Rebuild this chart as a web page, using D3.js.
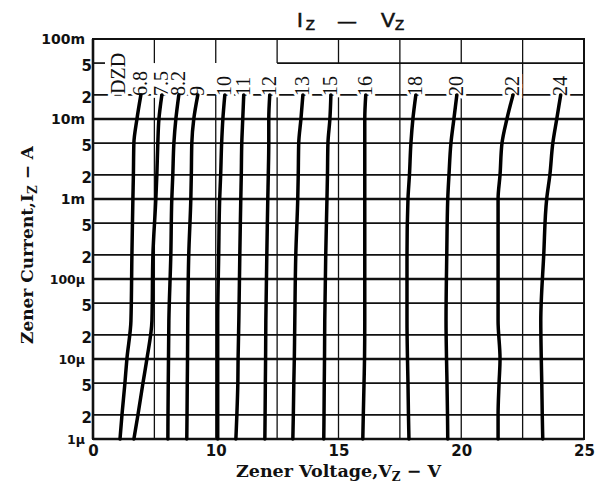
<!DOCTYPE html>
<html>
<head>
<meta charset="utf-8">
<title>Iz - Vz</title>
<script src="https://d3js.org/d3.v7.min.js"></script>
<style>
  body { margin: 0; background: #fff; }
</style>
</head>
<body>
<div id="chart"></div>
<script>

// current levels (A) at which each curve was read
var currents = [20e-3, 10e-3, 5e-3, 2e-3, 1e-3, 200e-6, 30e-6, 10e-6, 5e-6, 2e-6, 1e-6];

// zener voltage of each curve at those levels (axis units)
var v6_8 = [3.90, 3.58, 3.33, 3.29, 3.25, 3.17, 3.09, 2.76, 2.60, 2.36, 2.20];
var v7_5 = [5.61, 5.37, 5.28, 5.20, 5.12, 4.88, 4.80, 4.39, 4.07, 3.66, 3.33];
var v8_2 = [6.99, 6.75, 6.59, 6.50, 6.42, 6.34, 6.18, 6.15, 6.13, 6.11, 6.10];
var v9   = [8.54, 8.21, 8.05, 8.01, 7.97, 7.80, 7.72, 7.70, 7.68, 7.66, 7.64];
var v10  = [10.37, 10.29, 10.24, 10.20, 10.16, 10.12, 10.08, 10.08, 10.08, 10.08, 10.08];
var v11  = [11.14, 11.10, 11.06, 11.04, 11.02, 10.98, 10.94, 10.91, 10.90, 10.86, 10.82];
var v12  = [12.20, 12.16, 12.16, 12.14, 12.12, 12.08, 12.04, 12.03, 12.02, 12.01, 12.00];
var v13  = [13.55, 13.47, 13.38, 13.36, 13.34, 13.26, 13.22, 13.20, 13.18, 13.16, 13.14];
var v15  = [14.69, 14.65, 14.57, 14.55, 14.53, 14.48, 14.44, 14.43, 14.42, 14.41, 14.40];
var v16  = [16.11, 16.07, 16.07, 16.07, 16.07, 16.07, 16.07, 16.06, 16.04, 16.01, 15.99];
var v18  = [18.15, 18.03, 17.95, 17.89, 17.83, 17.79, 17.79, 17.81, 17.83, 17.85, 17.87];
var v20  = [19.82, 19.70, 19.58, 19.50, 19.45, 19.41, 19.38, 19.40, 19.42, 19.44, 19.45];
var v22  = [22.11, 21.86, 21.66, 21.58, 21.50, 21.50, 21.50, 21.58, 21.54, 21.50, 21.50];
var v24  = [24.05, 23.89, 23.73, 23.61, 23.48, 23.36, 23.24, 23.26, 23.28, 23.30, 23.32];

var curveNames = ["6.8", "7.5", "8.2", "9", "10", "11", "12", "13", "15", "16", "18", "20", "22", "24"];
var curveVolts = [v6_8, v7_5, v8_2, v9, v10, v11, v12, v13, v15, v16, v18, v20, v22, v24];

// axis ticks
var xTickValues = [0, 10, 15, 20, 25];
var xGridValues = [5, 10, 12.5, 15, 17.5, 20, 22.5];
var yTickValues = [1e-6, 2e-6, 5e-6, 1e-5, 2e-5, 5e-5, 1e-4, 2e-4, 5e-4, 1e-3, 2e-3, 5e-3, 1e-2, 2e-2, 5e-2, 1e-1];
var yTickLabels = ["1\u00b5", "2", "5", "10\u00b5", "2", "5", "100\u00b5", "2", "5", "1m", "2", "5", "10m", "2", "5", "100m"];

var margin = { top: 39, right: 13, bottom: 49, left: 93 },
    width = 597 - margin.left - margin.right,
    height = 488 - margin.top - margin.bottom;

var svg = d3.select("#chart")
    .append("svg")
    .attr("width", 597)
    .attr("height", 488);

var g = svg.append("g")
    .attr("transform", "translate(" + margin.left + "," + margin.top + ")");

// 0-10 V is squeezed into the first quarter of the axis
var x = d3.scaleLinear()
    .domain([0, 10, 25])
    .range([0, width / 4, width]);

var y = d3.scaleLog()
    .domain([1e-6, 1e-1])
    .range([height, 0]);

var ink = "#111";

// vertical grid; most lines are broken behind the label band in the print
var fullGrid = d => d === 17.5 || d === 22.5;
g.selectAll(".vgrid-top")
    .data(xGridValues)
    .join("line")
    .attr("x1", d => x(d)).attr("x2", d => x(d))
    .attr("y1", 0).attr("y2", d => fullGrid(d) ? y(2e-2) : y(5e-2))
    .attr("stroke", ink).attr("stroke-width", 1.3);
g.selectAll(".vgrid")
    .data(xGridValues)
    .join("line")
    .attr("x1", d => x(d)).attr("x2", d => x(d))
    .attr("y1", y(2e-2)).attr("y2", height)
    .attr("stroke", ink).attr("stroke-width", 1.3);

// horizontal grid, decades heavier
var isDecade = d => Math.abs(Math.log10(d) - Math.round(Math.log10(d))) < 1e-6;

g.selectAll(".hgrid")
    .data(yTickValues.filter(d => d > 1e-6 && d < 1e-1 && d !== 5e-2))
    .join("line")
    .attr("x1", 0).attr("x2", width)
    .attr("y1", d => y(d)).attr("y2", d => y(d))
    .attr("stroke", ink)
    .attr("stroke-width", d => isDecade(d) ? 2.4 : 1.7);

// 50m line is only partly printed
g.append("line")
    .attr("x1", 0).attr("x2", 12)
    .attr("y1", y(5e-2)).attr("y2", y(5e-2))
    .attr("stroke", ink).attr("stroke-width", 1.7);
g.append("line")
    .attr("x1", x(12.5)).attr("x2", width)
    .attr("y1", y(5e-2)).attr("y2", y(5e-2))
    .attr("stroke", ink).attr("stroke-width", 1.7);

// frame
g.append("rect")
    .attr("width", width).attr("height", height)
    .attr("fill", "none").attr("stroke", ink).attr("stroke-width", 2);
g.append("line")
    .attr("x1", 0).attr("x2", 0).attr("y1", 0).attr("y2", height)
    .attr("stroke", ink).attr("stroke-width", 2.6);
g.append("line")
    .attr("x1", 0).attr("x2", width).attr("y1", height).attr("y2", height)
    .attr("stroke", ink).attr("stroke-width", 2.6);

// curve labels (rotated, white halo breaks the grid like the print)
var labelFont = "'Liberation Serif', 'Times New Roman', serif";
var labelBase = y(2e-2) + 1;
g.selectAll(".clabel")
    .data(curveNames)
    .join("text")
    .attr("transform", (d, i) => "translate(" + (x(curveVolts[i][0]) + 6) + "," + labelBase + ") rotate(-90)")
    .style("font-family", labelFont)
    .style("font-size", "20px")
    .attr("fill", ink)
    .attr("stroke", "#fff").attr("stroke-width", 6)
    .attr("paint-order", "stroke")
    .text(d => d);

g.append("text")
    .attr("transform", "translate(" + (x(v6_8[0]) - 16) + "," + (labelBase - 2) + ") rotate(-90)")
    .style("font-family", labelFont)
    .style("font-size", "20px")
    .attr("fill", ink)
    .attr("stroke", "#fff").attr("stroke-width", 6)
    .attr("paint-order", "stroke")
    .text("DZD");

// curves
var line = d3.line()
    .x(d => x(d.v))
    .y(d => y(d.i))
    .curve(d3.curveMonotoneY);

var table = curveVolts.map(vs => vs.map((v, k) => ({ v: v, i: currents[k] })));

g.selectAll(".curve")
    .data(table)
    .join("path")
    .attr("d", line)
    .attr("fill", "none")
    .attr("stroke", "#000")
    .attr("stroke-width", 3.5)
    .attr("stroke-linecap", "round")
    .attr("stroke-linejoin", "round");

// x tick labels
var tickFont = "'DejaVu Sans', Verdana, sans-serif";
var xAxis = g.append("g")
    .attr("transform", "translate(0," + height + ")")
    .call(d3.axisBottom(x).tickValues(xTickValues).tickFormat(d3.format("d")).tickSize(0).tickPadding(6));
xAxis.select(".domain").remove();
xAxis.selectAll("text")
    .style("font-family", tickFont)
    .style("font-size", "15px")
    .style("font-weight", "bold")
    .attr("fill", ink);

// y tick labels
g.selectAll(".ylabel")
    .data(yTickValues)
    .join("text")
    .attr("x", d => isDecade(d) ? -8 : -1)
    .attr("y", d => y(d) + (isDecade(d) ? 5 : 8))
    .attr("text-anchor", "end")
    .style("font-family", tickFont)
    .style("font-weight", "bold")
    .style("font-size", (d, i) => isDecade(d) ? (yTickLabels[i].indexOf("\u00b5") >= 0 ? "12.5px" : "14px") : "15px")
    .attr("fill", ink)
    .text((d, i) => yTickLabels[i]);

// axis titles
var titleFont = "'DejaVu Serif', Georgia, serif";
var xt = svg.append("text")
    .attr("x", margin.left + width / 2)
    .attr("y", 477)
    .attr("text-anchor", "middle")
    .style("font-family", titleFont)
    .style("font-size", "17.5px")
    .style("font-weight", "bold")
    .attr("fill", ink);
xt.append("tspan").text("Zener Voltage,V");
xt.append("tspan").attr("dy", 4).style("font-size", "12px").text("Z");
xt.append("tspan").attr("dy", -4).text(" \u2212 V");

var yt = svg.append("text")
    .attr("transform", "translate(33," + (margin.top + height / 2 + 6) + ") rotate(-90)")
    .attr("text-anchor", "middle")
    .style("font-family", titleFont)
    .style("font-size", "17px")
    .style("font-weight", "bold")
    .attr("fill", ink);
yt.append("tspan").text("Zener Current,I");
yt.append("tspan").attr("dy", 4).style("font-size", "12px").text("Z");
yt.append("tspan").attr("dy", -4).text(" \u2212 A");

// chart title  Iz - Vz
var titleFace = "'Liberation Sans', Arial, sans-serif";
var tt = svg.append("text")
    .attr("x", 297)
    .attr("y", 27)
    .style("font-family", titleFace)
    .style("font-size", "21px")
    .attr("fill", ink)
    .attr("stroke", ink).attr("stroke-width", 0.6);
tt.append("tspan").text("I");
tt.append("tspan").attr("dy", 3).attr("dx", 3).style("font-size", "15px").text("Z");
tt.append("tspan").attr("dy", -3).attr("dx", 23).style("font-size", "18px").text("\u2014");
tt.append("tspan").attr("dx", 25).text("V");
tt.append("tspan").attr("dy", 3).style("font-size", "15px").text("Z");

</script>
</body>
</html>
